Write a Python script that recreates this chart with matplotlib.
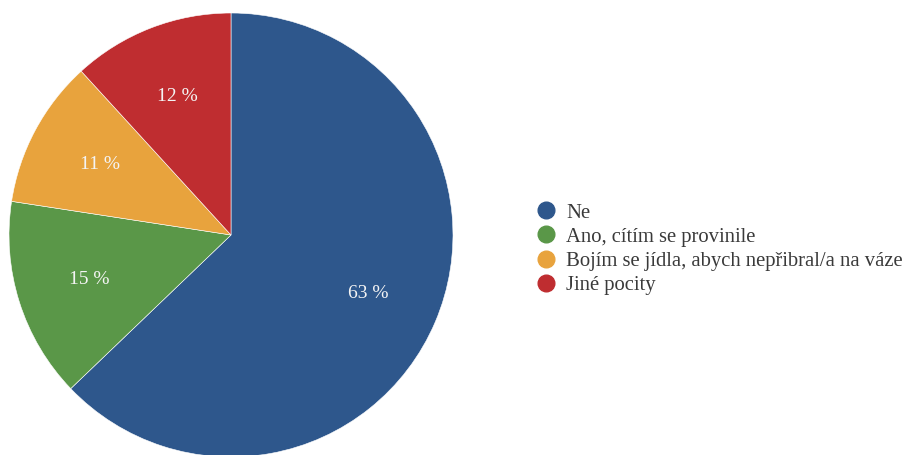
import matplotlib
matplotlib.use("Agg")
import matplotlib.pyplot as plt
from matplotlib.lines import Line2D

plt.rcParams['font.family'] = ['Liberation Serif', 'DejaVu Serif']

labels = ["Ne", "Ano, cítím se provinile",
          "Bojím se jídla, abych nepřibral/a na váze", "Jiné pocity"]
values = [62.9, 14.6, 10.8, 11.8]
colors = ["#2e578c", "#5a9748", "#e8a33d", "#bf2d30"]

fig = plt.figure(figsize=(9.05, 4.55), dpi=100)
ax = fig.add_axes([9 / 905, -2 / 455, 444 / 905, 444 / 455])

wedges, texts, autotexts = ax.pie(
    values, colors=colors, startangle=90, counterclock=False,
    autopct=lambda p: "%.0f %%" % p, pctdistance=0.67,
    wedgeprops=dict(edgecolor="white", linewidth=0.4),
    textprops=dict(color="#f4f4f4", fontsize=14))
ax.set_xlim(-1, 1)
ax.set_ylim(-1, 1)
ax.set_aspect("equal")

handles = [Line2D([], [], marker="o", linestyle="none", markersize=12,
                  markerfacecolor=c, markeredgecolor=c) for c in colors]
fig.legend(handles, labels, loc="center left", bbox_to_anchor=(524 / 905, 1 - 249 / 455),
           frameon=False, fontsize=14.9, handletextpad=0.45, labelspacing=0.22,
           handlelength=1.1, borderpad=0, labelcolor="#3a3a3a")

fig.savefig("out.png", dpi=100)
